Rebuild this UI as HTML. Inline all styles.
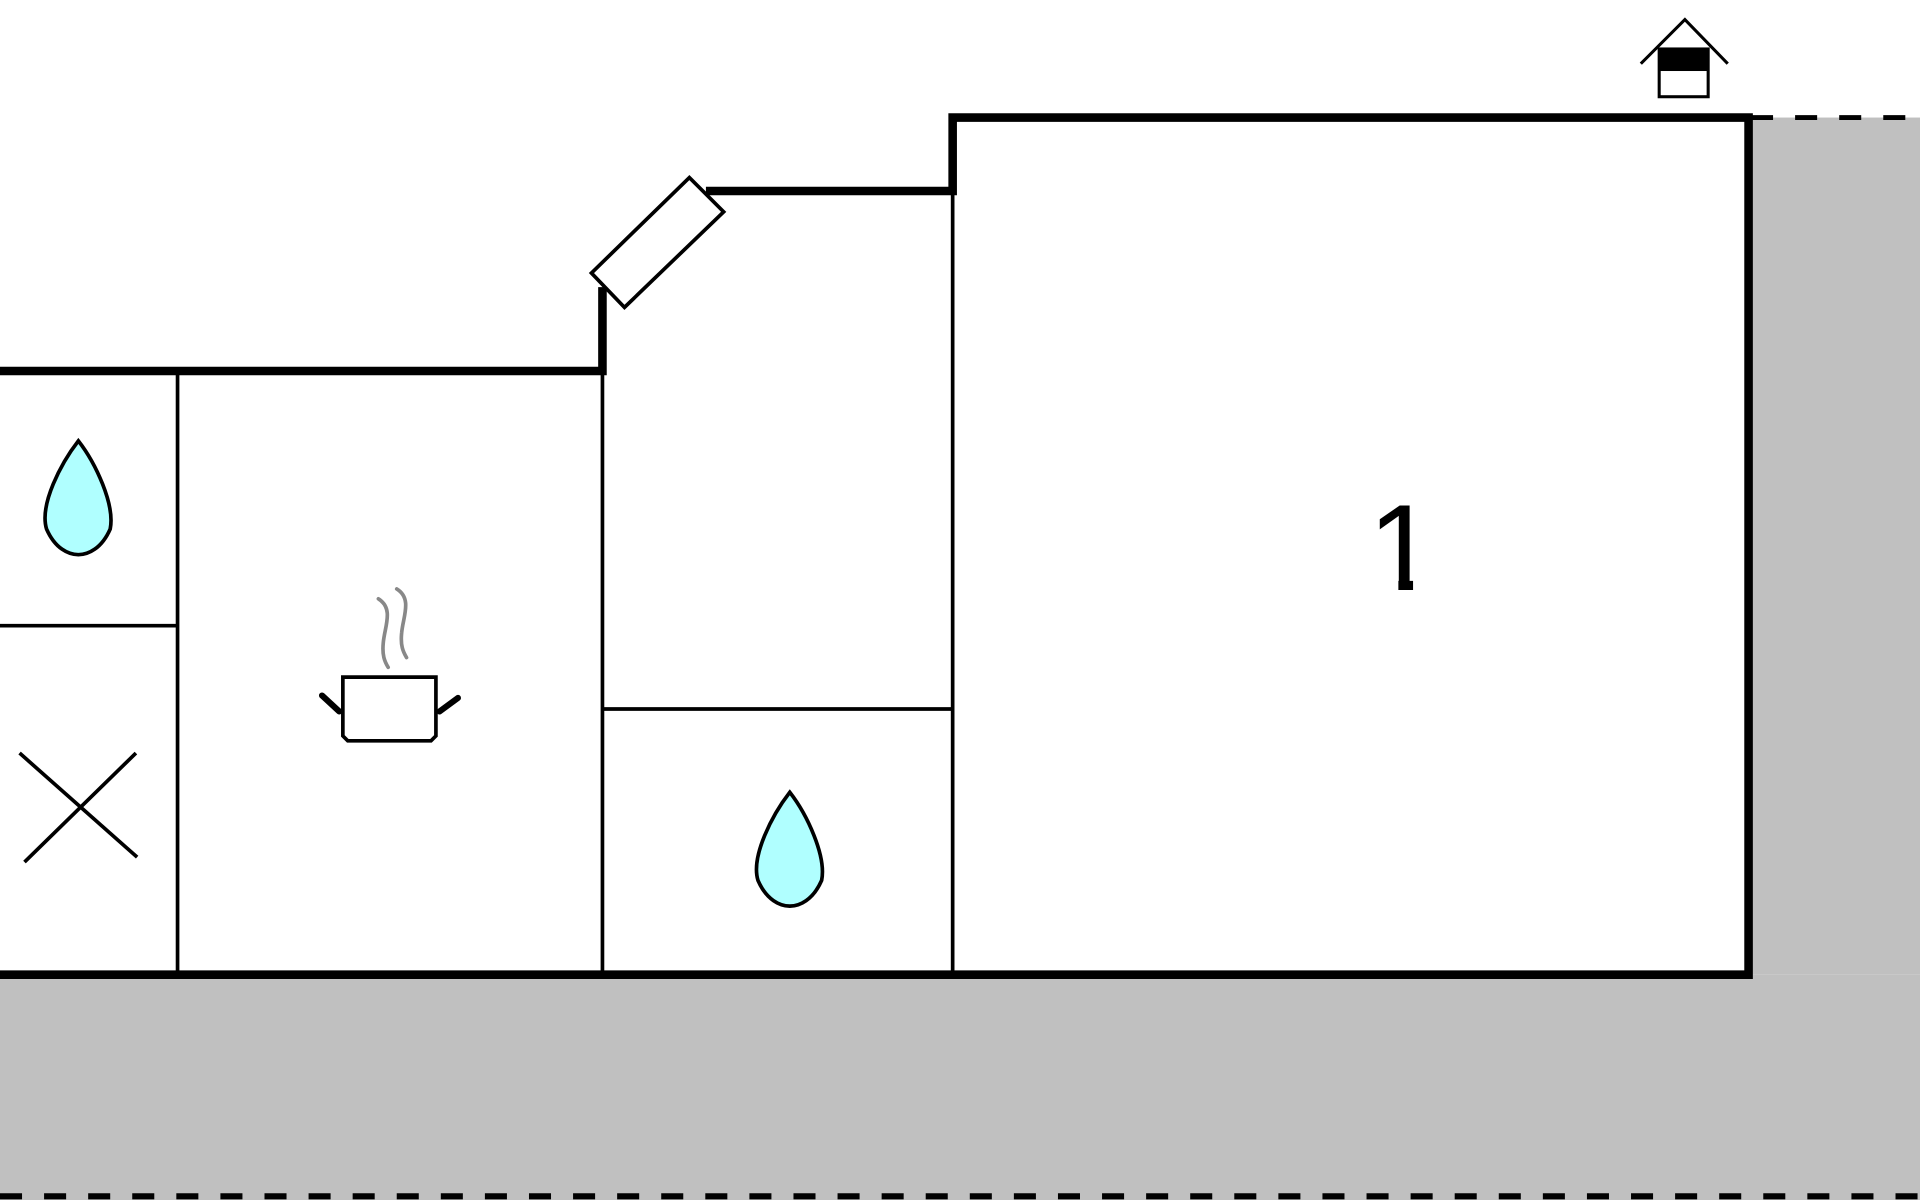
<!DOCTYPE html>
<html><head><meta charset="utf-8"><style>
html,body{margin:0;padding:0;background:#fff;}
svg{display:block;}
</style></head><body>
<svg width="1920" height="1200" viewBox="0 0 1568 980" xmlns="http://www.w3.org/2000/svg">
<rect x="0" y="0" width="1568" height="980" fill="#fff"/>
<rect x="0" y="796" width="1568" height="184" fill="#c0c0c0"/>
<rect x="1428" y="96" width="140" height="700" fill="#c0c0c0"/>
<line x1="1430" y1="96" x2="1568" y2="96" stroke="#000" stroke-width="4" stroke-dasharray="18,18"/>
<line x1="0" y1="977" x2="1568" y2="977" stroke="#000" stroke-width="5" stroke-dasharray="18,18"/>
<g stroke="#000" stroke-width="3" fill="none">
<line x1="145" y1="303" x2="145" y2="796"/>
<line x1="0" y1="511" x2="145" y2="511"/>
<line x1="492" y1="303" x2="492" y2="796"/>
<line x1="778" y1="156" x2="778" y2="796"/>
<line x1="492" y1="579" x2="778" y2="579"/>
</g>
<g stroke="#000" stroke-width="7" fill="none" stroke-linecap="square">
<polyline points="0,303 492,303 492,238"/>
<polyline points="580,156 778,156 778,96 1428,96 1428,796 0,796"/>
</g>
<polygon points="483,223 563,145 591,173 510,251" fill="#fff" stroke="#000" stroke-width="3"/>
<path d="M64,360 C50,378 32,412 38,432 C45,448 56,453 64,453 C72,453 83,448 90,432 C94,412 78,378 64,360 Z" fill="#b0ffff" stroke="#000" stroke-width="3"/>
<path transform="translate(581,287)" d="M64,360 C50,378 32,412 38,432 C45,448 56,453 64,453 C72,453 83,448 90,432 C94,412 78,378 64,360 Z" fill="#b0ffff" stroke="#000" stroke-width="3"/>
<g stroke="#000" stroke-width="3">
<line x1="16" y1="615" x2="112" y2="700"/>
<line x1="111" y1="615" x2="20" y2="704"/>
</g>
<path d="M280,553 H356 V601 L352,605 H284 L280,601 Z" fill="#fff" stroke="#000" stroke-width="3"/>
<g stroke="#000" stroke-width="5" stroke-linecap="round">
<line x1="277" y1="581" x2="263" y2="568"/>
<line x1="359" y1="581" x2="374" y2="570"/>
</g>
<g stroke="#888" stroke-width="3" fill="none" stroke-linecap="round">
<path d="M309,489 C322,497 314,512 313,525 C312,535 314,540 317,545"/>
<path d="M324,481 C337,489 329,504 328,517 C327,527 329,532 332,537"/>
</g>
<text x="1145" y="482" style="font-family:'Liberation Sans',Arial,sans-serif;font-size:100px" text-anchor="middle" fill="#000">1</text>
<rect x="1118" y="472" width="24" height="14" fill="#fff"/>
<rect x="1154" y="472" width="20" height="14" fill="#fff"/>
<polyline points="1340,52 1376,16 1411,52" stroke="#000" stroke-width="2.5" fill="none"/>
<rect x="1355" y="40" width="40" height="39" fill="#fff" stroke="#000" stroke-width="2.5"/>
<rect x="1355" y="40" width="40" height="18" fill="#000"/>
</svg>
</body></html>
